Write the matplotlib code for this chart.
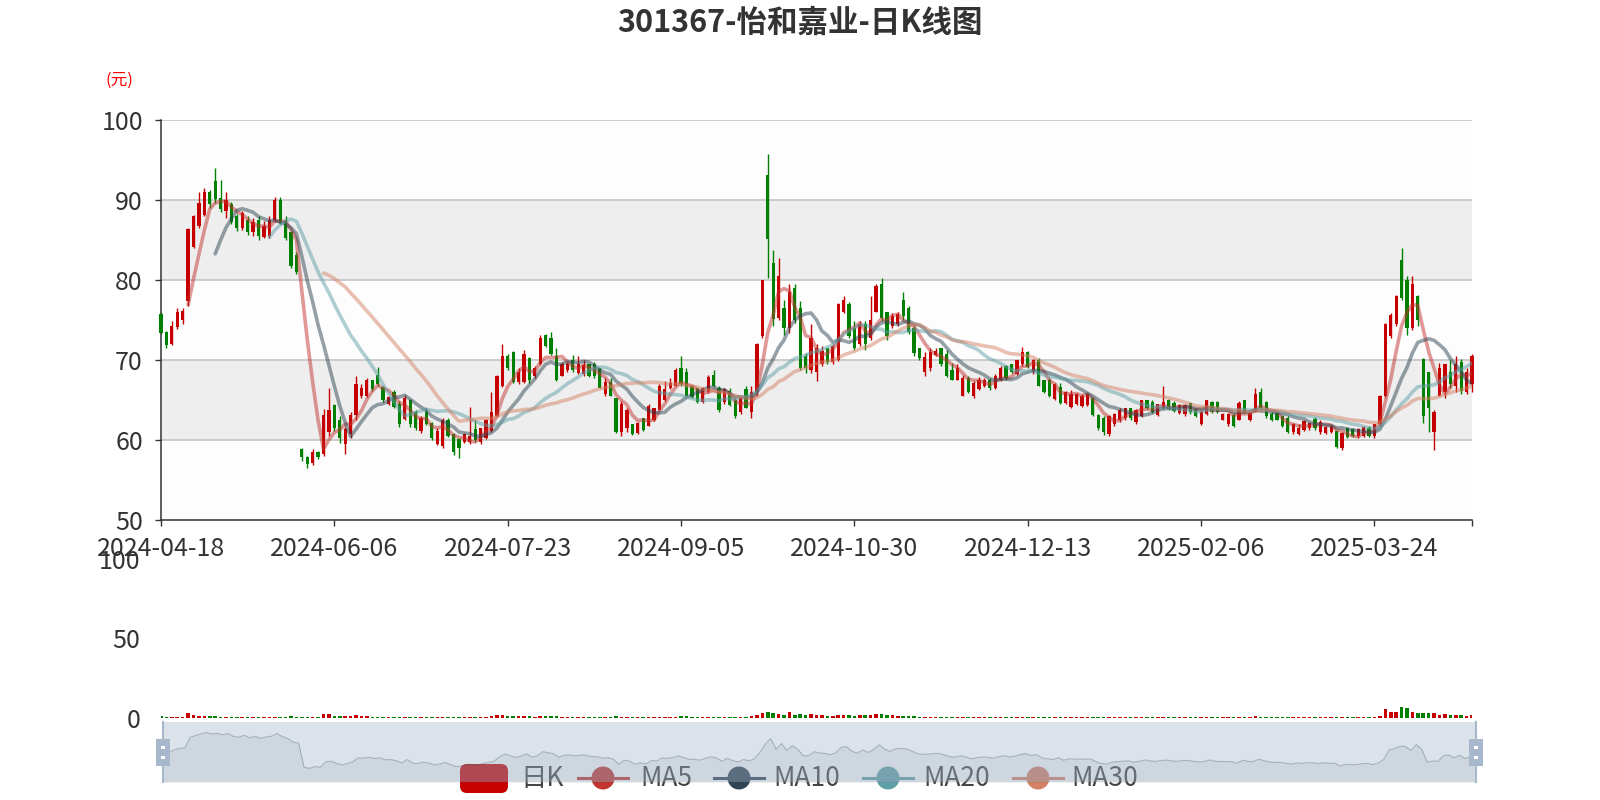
import matplotlib.pyplot as plt
import numpy as np
from matplotlib.patches import FancyBboxPatch, Rectangle, Circle
from matplotlib.lines import Line2D

plt.rcParams['font.family'] = ['Noto Sans CJK SC', 'DejaVu Sans']

title = '301367-怡和嘉业-日K线图'
tick_labels = ['2024-04-18', '2024-06-06', '2024-07-23', '2024-09-05',
               '2024-10-30', '2024-12-13', '2025-02-06', '2025-03-24']
tick_step = 32

# daily open / close / high / low (yuan), 2024-04-18 .. 2025-04-18
opens = [75.8, 73.6, 72.0, 74.2, 75.0, 77.4, 84.2, 86.8, 88.2, 91.0,
         92.4, 90.3, 88.7, 89.5, 88.0, 86.6, 87.6, 86.0, 87.5, 85.4,
         85.5, 87.5, 90.0, 87.6, 86.0, 83.2, 58.9, 57.9, 57.2, 58.5,
         58.3, 61.0, 64.4, 62.5, 59.6, 60.8, 63.2, 65.5, 65.6, 67.5,
         68.2, 66.7, 64.6, 66.0, 64.6, 62.7, 65.0, 63.5, 61.2, 63.5,
         62.2, 59.6, 59.3, 62.6, 60.8, 60.2, 59.8, 59.8, 61.4, 59.8,
         60.3, 61.2, 63.0, 66.8, 70.6, 71.0, 67.3, 67.3, 70.3, 68.0,
         69.5, 73.2, 72.8, 70.6, 68.0, 68.8, 70.0, 68.4, 68.3, 69.5,
         69.6, 69.0, 65.8, 67.3, 65.3, 61.0, 61.5, 62.0, 60.9, 62.8,
         61.8, 62.5, 63.8, 65.0, 66.5, 66.8, 69.0, 68.5, 66.8, 66.5,
         64.8, 66.0, 68.2, 66.5, 64.8, 66.2, 65.0, 63.5, 66.4, 63.5,
         66.0, 73.0, 93.2, 82.2, 75.3, 76.5, 74.0, 79.0, 76.5, 70.5,
         68.8, 68.5, 69.5, 71.5, 69.8, 70.0, 76.0, 77.0, 74.0, 72.0,
         74.5, 72.8, 76.1, 79.5, 76.0, 74.3, 74.5, 77.5, 76.5, 74.0,
         71.5, 68.5, 69.0, 70.7, 71.5, 70.8, 68.8, 67.6, 65.6, 67.8,
         65.5, 66.4, 66.8, 67.6, 66.5, 67.5, 69.3, 69.5, 68.3, 69.5,
         71.0, 68.5, 70.0, 67.5, 67.6, 65.2, 66.7, 64.7, 64.2, 64.5,
         64.3, 64.4, 65.3, 63.2, 62.8, 60.8, 62.0, 62.5, 62.8, 64.0,
         62.3, 63.0, 65.0, 64.8, 63.2, 64.0, 65.0, 64.7, 63.4, 63.3,
         64.7, 63.9, 62.0, 63.3, 64.8, 64.8, 62.6, 62.0, 63.2, 62.6,
         65.0, 62.6, 63.6, 66.0, 64.8, 63.3, 63.4, 63.0, 62.8, 61.0,
         60.8, 61.3, 61.5, 62.7, 61.0, 60.9, 61.0, 61.2, 59.0, 61.6,
         61.4, 60.5, 60.6, 61.6, 60.5, 62.0, 65.5, 73.0, 74.5, 82.5,
         80.0, 74.0, 78.0, 70.2, 68.5, 61.0, 65.5, 66.0, 68.5, 66.8,
         69.8, 66.0, 67.0]

closes = [73.4, 71.9, 74.3, 76.0, 76.2, 86.4, 88.0, 89.7, 91.0, 89.5,
          90.2, 88.9, 90.0, 87.3, 86.6, 88.4, 86.0, 87.3, 85.5, 86.8,
          87.5, 90.0, 87.2, 85.3, 81.8, 81.0, 57.9, 57.0, 58.6, 57.9,
          63.2, 63.8, 61.5, 60.3, 61.4, 63.2, 67.0, 66.6, 67.5, 66.4,
          67.0, 65.0, 65.4, 64.2, 62.0, 65.3, 62.0, 61.5, 62.8, 62.0,
          60.3, 61.2, 62.5, 60.6, 58.6, 59.0, 60.8, 60.6, 60.0, 61.5,
          62.6, 63.5, 68.0, 70.5, 69.0, 67.3, 68.5, 70.8, 67.5, 69.0,
          72.8, 71.8, 70.8, 67.5, 69.6, 69.6, 68.8, 69.6, 69.4, 68.0,
          68.1, 66.6, 67.3, 65.6, 61.0, 64.6, 63.8, 60.8, 62.2, 61.3,
          64.3, 64.0, 66.8, 66.4, 67.2, 68.8, 67.0, 65.6, 65.4, 64.8,
          66.5, 67.9, 66.8, 63.8, 66.4, 64.4, 63.0, 65.4, 64.1, 66.0,
          72.0, 80.0, 85.2, 75.2, 80.5, 74.0, 78.5, 75.0, 69.0, 69.0,
          72.8, 71.5, 71.2, 69.8, 71.8, 77.0, 77.5, 73.0, 71.5, 74.5,
          72.0, 75.0, 79.3, 75.3, 73.0, 75.5, 75.8, 75.5, 73.5, 70.9,
          70.3, 70.4, 71.0, 71.2, 69.6, 68.0, 67.6, 69.0, 67.8, 66.0,
          67.2, 67.6, 67.6, 66.5, 68.0, 69.0, 67.8, 68.5, 70.0, 71.0,
          69.2, 70.0, 66.8, 66.0, 65.5, 67.0, 64.7, 66.0, 65.8, 65.8,
          65.6, 65.8, 63.2, 61.5, 61.0, 63.0, 63.3, 63.8, 64.0, 62.8,
          63.8, 65.0, 64.0, 63.5, 64.5, 64.8, 63.9, 63.7, 64.4, 64.4,
          63.6, 63.0, 63.6, 65.0, 63.6, 63.5, 63.3, 63.3, 61.8, 64.7,
          63.5, 63.4, 65.8, 64.0, 63.0, 62.5, 62.6, 61.8, 61.0, 62.1,
          61.6, 62.4, 62.2, 61.5, 62.3, 61.7, 61.8, 59.2, 60.9, 60.4,
          60.5, 61.4, 61.7, 60.5, 62.0, 65.5, 74.5, 75.7, 78.0, 77.8,
          74.0, 79.5, 75.0, 63.0, 64.0, 63.6, 69.0, 69.5, 67.0, 69.5,
          66.2, 68.5, 70.5]

highs = [76.0, 73.7, 74.9, 76.5, 76.5, 86.6, 88.2, 91.0, 91.5, 91.3,
         94.0, 92.6, 91.0, 89.8, 88.3, 88.7, 88.0, 87.8, 88.0, 87.4,
         88.0, 90.4, 90.4, 88.0, 86.2, 83.6, 59.0, 58.0, 58.9, 58.7,
         63.9, 66.6, 64.6, 63.0, 61.7, 63.5, 68.0, 67.0, 67.8, 67.6,
         69.2, 66.8, 65.5, 66.3, 64.9, 65.7, 65.2, 63.8, 63.0, 64.0,
         62.3, 61.5, 62.8, 62.8, 60.9, 60.3, 60.9, 64.2, 62.5, 61.6,
         62.7, 66.0, 68.2, 72.0, 70.8, 71.2, 69.0, 71.3, 70.4, 69.3,
         73.2, 73.3, 73.6, 71.5, 69.8, 69.8, 70.7, 70.5, 70.0, 69.6,
         69.8, 69.0, 67.8, 67.8, 65.3, 64.9, 64.0, 62.0, 62.3, 62.8,
         64.5, 64.1, 67.0, 67.4, 67.8, 69.0, 70.5, 69.0, 66.9, 66.7,
         66.7, 68.2, 68.8, 66.8, 66.6, 66.5, 65.3, 65.5, 66.8, 66.8,
         72.2, 80.1, 95.8, 83.8, 82.8, 77.6, 79.5, 79.5, 77.4, 70.9,
         74.5, 72.0, 71.8, 71.6, 72.0, 77.2, 78.0, 77.3, 74.9, 74.9,
         74.9, 78.0, 79.5, 80.3, 76.1, 75.9, 76.0, 78.5, 76.8, 74.3,
         71.6, 71.0, 71.5, 71.5, 71.6, 71.3, 69.7, 69.5, 68.2, 68.0,
         67.4, 67.9, 67.8, 67.8, 68.3, 69.3, 69.4, 69.6, 70.1, 71.7,
         71.2, 70.2, 70.3, 67.6, 67.8, 67.2, 67.2, 66.2, 66.3, 65.9,
         65.8, 65.9, 65.3, 63.3, 63.0, 63.2, 63.4, 64.0, 64.0, 64.1,
         63.9, 65.1, 65.1, 65.0, 64.6, 66.8, 65.2, 64.9, 64.5, 64.5,
         64.7, 64.0, 63.8, 65.1, 64.9, 64.9, 63.4, 63.4, 63.4, 64.9,
         65.0, 63.5, 66.5, 66.5, 64.9, 63.5, 63.5, 63.1, 63.0, 62.2,
         62.0, 62.5, 62.3, 62.9, 62.5, 61.8, 61.9, 61.3, 61.0, 61.7,
         61.5, 61.5, 61.8, 61.8, 62.0, 65.7, 74.7, 75.9, 78.2, 84.0,
         80.5, 80.5, 78.2, 70.3, 68.6, 63.8, 69.7, 69.6, 70.0, 70.5,
         70.2, 69.0, 70.8]

lows = [73.3, 71.6, 71.9, 73.9, 74.6, 76.8, 84.0, 86.5, 88.0, 89.0,
        89.7, 88.5, 87.8, 87.0, 86.2, 86.3, 85.7, 85.5, 85.1, 85.3,
        85.3, 87.3, 87.0, 85.0, 81.5, 80.8, 57.4, 56.6, 56.9, 57.7,
        58.0, 60.5, 61.2, 59.7, 58.3, 60.3, 62.5, 65.3, 65.4, 66.2,
        66.8, 64.8, 64.4, 64.0, 61.7, 62.5, 61.7, 61.3, 60.9, 61.9,
        60.0, 59.4, 59.0, 60.4, 58.2, 57.8, 59.7, 59.6, 59.8, 59.5,
        60.2, 61.1, 62.9, 66.7, 68.8, 67.2, 67.1, 67.2, 67.2, 67.8,
        69.4, 71.7, 70.7, 67.4, 68.0, 68.6, 68.6, 68.3, 68.1, 67.9,
        67.8, 66.5, 65.6, 65.5, 60.9, 60.5, 61.0, 60.7, 60.8, 61.2,
        61.75, 62.4, 63.8, 64.9, 66.4, 66.75, 66.75, 65.5, 65.3, 64.7,
        64.7, 65.9, 66.7, 63.6, 64.6, 64.3, 62.8, 63.3, 64.0, 62.8,
        65.5, 72.8, 80.3, 74.25, 75.0, 73.2, 73.4, 74.7, 68.8, 68.4,
        68.4, 67.4, 69.25, 69.5, 69.5, 69.9, 75.9, 72.8, 71.3, 71.8,
        71.3, 72.6, 76.0, 74.9, 72.6, 74.1, 74.3, 75.1, 73.3, 70.5,
        70.1, 68.0, 68.7, 70.5, 69.3, 67.9, 67.5, 67.5, 65.5, 65.9,
        65.3, 66.3, 66.7, 66.3, 66.4, 67.4, 67.6, 68.4, 68.2, 69.25,
        69.1, 68.3, 66.75, 65.9, 65.4, 65.1, 64.6, 64.6, 64.0, 64.4,
        64.2, 64.3, 63.0, 61.3, 60.7, 60.5, 61.8, 62.3, 62.6, 62.6,
        62.1, 62.9, 63.9, 63.4, 63.0, 63.9, 63.8, 63.6, 63.3, 63.0,
        63.3, 62.9, 61.9, 63.2, 63.4, 63.4, 62.5, 61.8, 61.7, 62.5,
        63.4, 62.4, 63.5, 63.9, 62.8, 62.4, 62.5, 61.7, 60.9, 60.8,
        60.7, 61.2, 61.3, 61.3, 60.8, 60.8, 60.9, 59.0, 58.8, 60.3,
        60.4, 60.3, 60.4, 60.4, 60.3, 61.75, 65.4, 72.8, 74.25, 77.6,
        73.2, 73.8, 74.25, 62.2, 61.1, 58.8, 65.5, 65.3, 66.5, 66.0,
        65.8, 65.8, 66.0]

# daily volume (small values on a 0-100 axis)
volumes = [1.0, 0.8, 0.7, 0.8, 0.9, 3.0, 2.2, 1.5, 1.2, 1.0,
           1.3, 0.9, 0.7, 0.7, 0.6, 0.6, 0.5, 0.6, 0.5, 0.6,
           0.6, 0.9, 0.8, 0.7, 1.0, 0.9, 0.6, 0.7, 0.8, 0.6,
           2.6, 2.4, 1.5, 1.1, 1.0, 1.2, 1.8, 1.3, 1.0, 0.8,
           0.9, 0.7, 0.6, 0.7, 0.8, 0.9, 0.8, 0.7, 0.6, 0.6,
           0.7, 0.6, 0.8, 0.7, 0.8, 0.8, 0.6, 0.9, 0.7, 0.6,
           0.8, 1.3, 1.6, 2.2, 1.4, 1.3, 1.0, 1.5, 1.1, 0.9,
           1.4, 1.2, 1.1, 1.0, 0.8, 0.7, 0.7, 0.6, 0.7, 0.6,
           0.6, 0.7, 0.6, 0.6, 1.0, 0.9, 0.7, 0.6, 0.5, 0.5,
           0.7, 0.6, 0.8, 0.7, 0.6, 0.9, 1.2, 1.0, 0.7, 0.6,
           0.6, 0.7, 0.6, 0.7, 0.6, 0.6, 0.7, 0.8, 0.7, 1.2,
           2.0, 3.0, 3.6, 3.0, 2.4, 2.0, 3.5, 2.2, 2.5, 1.6,
           2.8, 1.8, 1.6, 1.4, 1.5, 2.2, 1.8, 1.8, 1.5, 1.6,
           1.9, 2.0, 2.4, 2.6, 1.8, 1.6, 1.4, 1.2, 1.0, 1.2,
           0.9, 0.8, 0.9, 0.7, 0.8, 0.9, 0.7, 0.6, 0.8, 0.7,
           0.6, 0.7, 0.6, 0.6, 0.7, 0.7, 0.6, 0.6, 0.7, 0.9,
           0.7, 0.6, 0.8, 0.6, 0.6, 0.6, 0.7, 0.6, 0.6, 0.5,
           0.5, 0.5, 0.6, 0.7, 0.6, 0.6, 0.5, 0.5, 0.5, 0.5,
           0.5, 0.6, 0.5, 0.5, 0.5, 0.9, 0.6, 0.5, 0.5, 0.5,
           0.5, 0.5, 0.6, 0.8, 0.6, 0.5, 0.5, 0.6, 0.6, 0.7,
           0.6, 0.6, 1.1, 0.8, 0.6, 0.5, 0.5, 0.5, 0.5, 0.5,
           0.5, 0.5, 0.5, 0.5, 0.5, 0.4, 0.4, 0.7, 0.6, 0.5,
           0.5, 0.5, 0.5, 0.5, 0.6, 1.4, 5.5, 3.5, 4.0, 6.7,
           6.3, 3.5, 3.0, 3.0, 3.0, 3.0, 2.2, 2.5, 1.6, 1.7,
           2.0, 1.2, 1.9]

ma_days = [5, 10, 20, 30]
ma_colors = ['#c23531', '#2f4554', '#61a0a8', '#d48265']
up_color = '#c60000'
down_color = '#008000'


def calc_ma(vals, n):
    # same rule as the echarts demo: first value appears at index n
    out = np.full(len(vals), np.nan)
    for i in range(n, len(vals)):
        out[i] = np.mean(vals[i - n + 1:i + 1])
    return out


o = np.array(opens)
c = np.array(closes)
h = np.array(highs)
l = np.array(lows)
v = np.array(volumes)
x = np.arange(len(c))
n = len(c)
cols = np.where(c > o, up_color, down_color)

W, H = 1600, 800
fig = plt.figure(figsize=(16, 8), dpi=100)

L = 161 / W
R = 1472 / W

# ---- main candlestick panel
ax = fig.add_axes([L, (H - 520.4) / H, R - L, 400 / H])
for lo, hi, fc in [(50, 60, '#fdfdfd'), (60, 70, '#eeeeee'), (70, 80, '#fdfdfd'),
                   (80, 90, '#eeeeee'), (90, 100, '#fdfdfd')]:
    ax.axhspan(lo, hi, color=fc, zorder=0, lw=0)
for yv in [60, 70, 80, 90, 100]:
    ax.axhline(yv, color='#c8c8c8', lw=1.3, zorder=1)

ax.vlines(x, l, h, colors=cols, lw=1.0, zorder=2, clip_on=False)
ax.bar(x, np.abs(c - o), bottom=np.minimum(o, c), width=0.6, color=cols,
       zorder=3, lw=0, clip_on=False)

for d, col in zip(ma_days, ma_colors):
    ax.plot(x, calc_ma(c, d), color=col, lw=2.6, alpha=0.5, zorder=4,
            solid_capstyle='round', solid_joinstyle='round')

ax.set_xlim(0, n - 1)
ax.set_ylim(50, 100)
ax.set_yticks([50, 60, 70, 80, 90, 100])
ax.set_xticks(list(range(0, n, tick_step)))
ax.set_xticklabels(tick_labels)
ax.set_xticks([n - 1], minor=True)
for s in ['top', 'right']:
    ax.spines[s].set_visible(False)
for s in ['left', 'bottom']:
    ax.spines[s].set_color('#333333')
    ax.spines[s].set_linewidth(1.1)
ax.tick_params(axis='y', length=4, width=1, color='#333333', pad=9,
               labelsize=18, labelcolor='#333333')
ax.tick_params(axis='x', which='both', length=4, width=1, color='#333333',
               pad=7, labelsize=18, labelcolor='#333333')
ax.set_facecolor('none')

# ---- volume panel
vax = fig.add_axes([L, (H - 718) / H, R - L, 159 / H])
vax.bar(x, v, width=0.65, color=cols, lw=0)
vax.set_xlim(0, n - 1)
vax.set_ylim(0, 100)
vax.set_yticks([0, 50, 100])
vax.set_xticks([])
for s in vax.spines.values():
    s.set_visible(False)
vax.tick_params(axis='y', length=0, pad=15, labelsize=18, labelcolor='#333333')
vax.set_facecolor('none')

# ---- legend layer (sits under the slider)
lax = fig.add_axes([0, 0, 1, 1], zorder=1)
lax.set_xlim(0, W)
lax.set_ylim(H, 0)
lax.axis('off')
ly = 778
lax.add_patch(FancyBboxPatch((460, 764), 48, 29, boxstyle='round,pad=0,rounding_size=7',
                             fc=up_color, ec='none'))
lax.text(520, ly, '日K', fontsize=19, color='#444444', va='center', ha='left')
leg_pos = [(578, 640), (714, 773), (863, 923), (1013, 1071)]
for (lx, tx), d, col in zip(leg_pos, ma_days, ma_colors):
    lax.add_line(Line2D([lx, lx + 50], [ly, ly], color=col, lw=2.2))
    lax.add_patch(Circle((lx + 25, ly), 11.5, fc=col, ec='none'))
    lax.text(tx, ly, 'MA%d' % d, fontsize=19, color='#444444', va='center', ha='left')

# ---- data-zoom slider
sx0, sx1 = 163, 1476
sax = fig.add_axes([sx0 / W, (H - 782) / H, (sx1 - sx0) / W, 60 / H], zorder=2)
sax.set_facecolor((167 / 255, 183 / 255, 204 / 255, 0.4))
sax.fill_between(x, c, 40, color=(47 / 255, 69 / 255, 84 / 255), alpha=0.07, lw=0)
sax.plot(x, c, color=(47 / 255, 69 / 255, 84 / 255), alpha=0.3, lw=0.8)
sax.set_xlim(0, n - 1)
sax.set_ylim(44, 101)
sax.set_xticks([])
sax.set_yticks([])
for s in ['top', 'bottom']:
    sax.spines[s].set_visible(False)
for s in ['left', 'right']:
    sax.spines[s].set_color('#a7b7cc')
    sax.spines[s].set_linewidth(1.5)

hax = fig.add_axes([0, 0, 1, 1], zorder=3)
hax.set_xlim(0, W)
hax.set_ylim(H, 0)
hax.axis('off')
for hx in [sx0, sx1]:
    hax.add_patch(Rectangle((hx - 7, 739), 14, 27, fc='#a7b7cc', ec='none'))
    hax.add_patch(Rectangle((hx - 2, 746), 4, 3, fc='white', ec='none'))
    hax.add_patch(Rectangle((hx - 2, 756), 4, 3, fc='white', ec='none'))

# ---- titles
fig.text(0.5, 1 - 22.5 / H, title, ha='center', va='center', fontsize=22,
         fontweight='bold', color='#333333')
fig.text(119.5 / W, 1 - 80.5 / H, '(元)', ha='center', va='center',
         fontsize=12, color='red')

fig.savefig('out.png', dpi=100)
